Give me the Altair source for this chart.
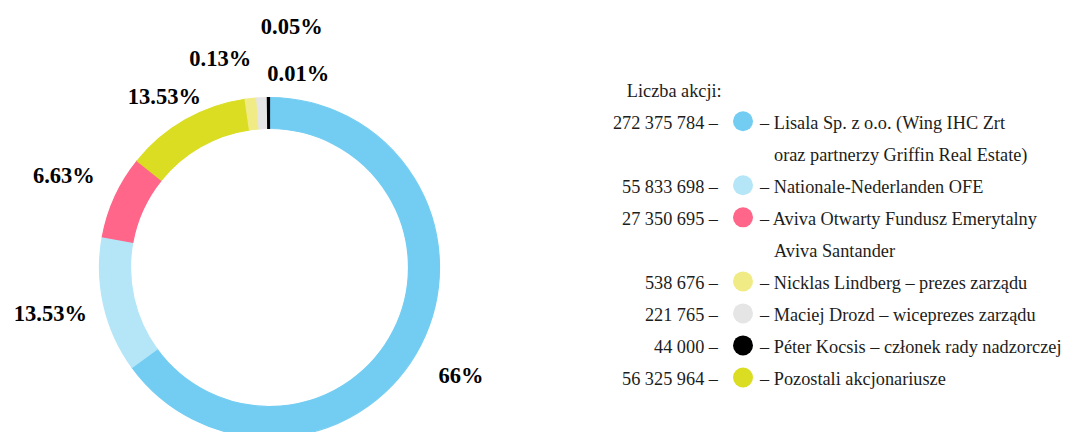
import altair as alt
import numpy as np
import pandas as pd

# ---------------- data ----------------
# donut slices, clockwise from 12 o'clock
slice_names = ["Lisala", "Nationale-Nederlanden", "Aviva", "Pozostali",
               "Lindberg", "Drozd", "Kocsis"]
slice_pct = [65.0, 12.9, 7.9, 11.9, 1.1, 1.0, 0.2]          # arc sizes as drawn
slice_labels = ["66%", "13.53%", "6.63%", "13.53%", "0.13%", "0.05%", "0.01%"]

# legend (in legend order)
legend_title = "Liczba akcji:"
legend_keys = ["Lisala", "Nationale-Nederlanden", "Aviva", "Lindberg",
               "Drozd", "Kocsis", "Pozostali"]
legend_counts = ["272 375 784", "55 833 698", "27 350 695", "538 676",
                 "221 765", "44 000", "56 325 964"]
legend_lines = [
    ["Lisala Sp. z o.o. (Wing IHC Zrt", "oraz partnerzy Griffin Real Estate)"],
    ["Nationale-Nederlanden OFE"],
    ["Aviva Otwarty Fundusz Emerytalny", "Aviva Santander"],
    ["Nicklas Lindberg – prezes zarządu"],
    ["Maciej Drozd – wiceprezes zarządu"],
    ["Péter Kocsis – członek rady nadzorczej"],
    ["Pozostali akcjonariusze"],
]

# ---------------- styles ----------------
slice_colors = ["#73CDF2", "#B4E6F8", "#FF6689", "#DADD21",
                "#F0EB84", "#E5E5E5", "#000000"]
label_nudge = [2.5, 0.8, -0.7, -2.0, -7.0, 7.8, 8.8]      # degrees
label_radius = [220, 224, 225, 200, 214, 242, 196]        # px
FONT = "Liberation Serif"
TXT = "#1d1d1b"
FS = 18.3
H = 416
CX, CY = 261.5, 259.5

color_scale = alt.Scale(domain=slice_names, range=slice_colors)

# ---------------- donut ----------------
df_arc = pd.DataFrame({"name": slice_names, "pct": slice_pct,
                       "idx": list(range(len(slice_names)))})

cum = np.cumsum(slice_pct)
mid_deg = (cum - np.array(slice_pct) / 2) * 3.6
df_lab = pd.DataFrame({
    "label": slice_labels,
    "angle": (mid_deg + np.array(label_nudge)) % 360,
    "r": label_radius,
})

arcs = alt.Chart(df_arc).mark_arc(innerRadius=139, outerRadius=170,
                                  strokeWidth=1.2).encode(
    x=alt.value(CX), y=alt.value(CY),
    theta=alt.Theta("pct:Q", stack=True),
    order=alt.Order("idx:Q"),
    color=alt.Color("name:N", scale=color_scale, legend=None),
    stroke=alt.Stroke("name:N", scale=color_scale, legend=None),
)

labels = alt.Chart(df_lab).mark_text(
    font=FONT, fontWeight="bold", fontSize=22.5, color="#000000"
).encode(
    x=alt.value(CX), y=alt.value(CY),
    theta=alt.Theta("angle:Q", stack=None,
                    scale=alt.Scale(domain=[0, 360], range=[0, 2 * np.pi])),
    radius=alt.Radius("r:Q", scale=None),
    text="label:N",
)

donut = alt.layer(arcs, labels).resolve_scale(theta="independent").properties(
    width=523, height=H)

# ---------------- legend ----------------
rows_main, rows_cont = [], []
row = 1
for key, cnt, lines in zip(legend_keys, legend_counts, legend_lines):
    rows_main.append({"row": row, "key": key, "count": f"{cnt} –",
                      "text": f"– {lines[0]}"})
    for extra in lines[1:]:
        row += 1
        rows_cont.append({"row": row, "text": extra})
    row += 1
df_main = pd.DataFrame(rows_main)
df_cont = pd.DataFrame(rows_cont)
df_title = pd.DataFrame({"row": [0], "text": [legend_title]})

y0, step = 81.2, 32.03
yscale = alt.Scale(domain=[-y0 / step, (H - y0) / step], reverse=True,
                   nice=False, zero=False)
Y = alt.Y("row:Q", scale=yscale, axis=None)

t_title = alt.Chart(df_title).mark_text(
    font=FONT, fontSize=FS, color=TXT, align="right", baseline="alphabetic",
    dy=7.5, x=190.7).encode(y=Y, text="text:N")
t_count = alt.Chart(df_main).mark_text(
    font=FONT, fontSize=FS, color=TXT, align="right", baseline="alphabetic",
    dy=7.5, x=187).encode(y=Y, text="count:N")
dots = alt.Chart(df_main).mark_circle(size=400, opacity=1, x=212).encode(
    y=Y, color=alt.Color("key:N", scale=color_scale, legend=None))
t_name = alt.Chart(df_main).mark_text(
    font=FONT, fontSize=FS, color=TXT, align="left", baseline="alphabetic",
    dy=7.5, x=229).encode(y=Y, text="text:N")
t_cont = alt.Chart(df_cont).mark_text(
    font=FONT, fontSize=FS, color=TXT, align="left", baseline="alphabetic",
    dy=7.5, x=243).encode(y=Y, text="text:N")

legend = alt.layer(t_title, t_count, dots, t_name, t_cont).properties(
    width=534, height=H)

chart = alt.hconcat(donut, legend, spacing=0, padding=0).configure_view(
    stroke=None).configure_concat(spacing=0)

chart.save("out.html", embed_options={"renderer": "svg", "actions": False})
